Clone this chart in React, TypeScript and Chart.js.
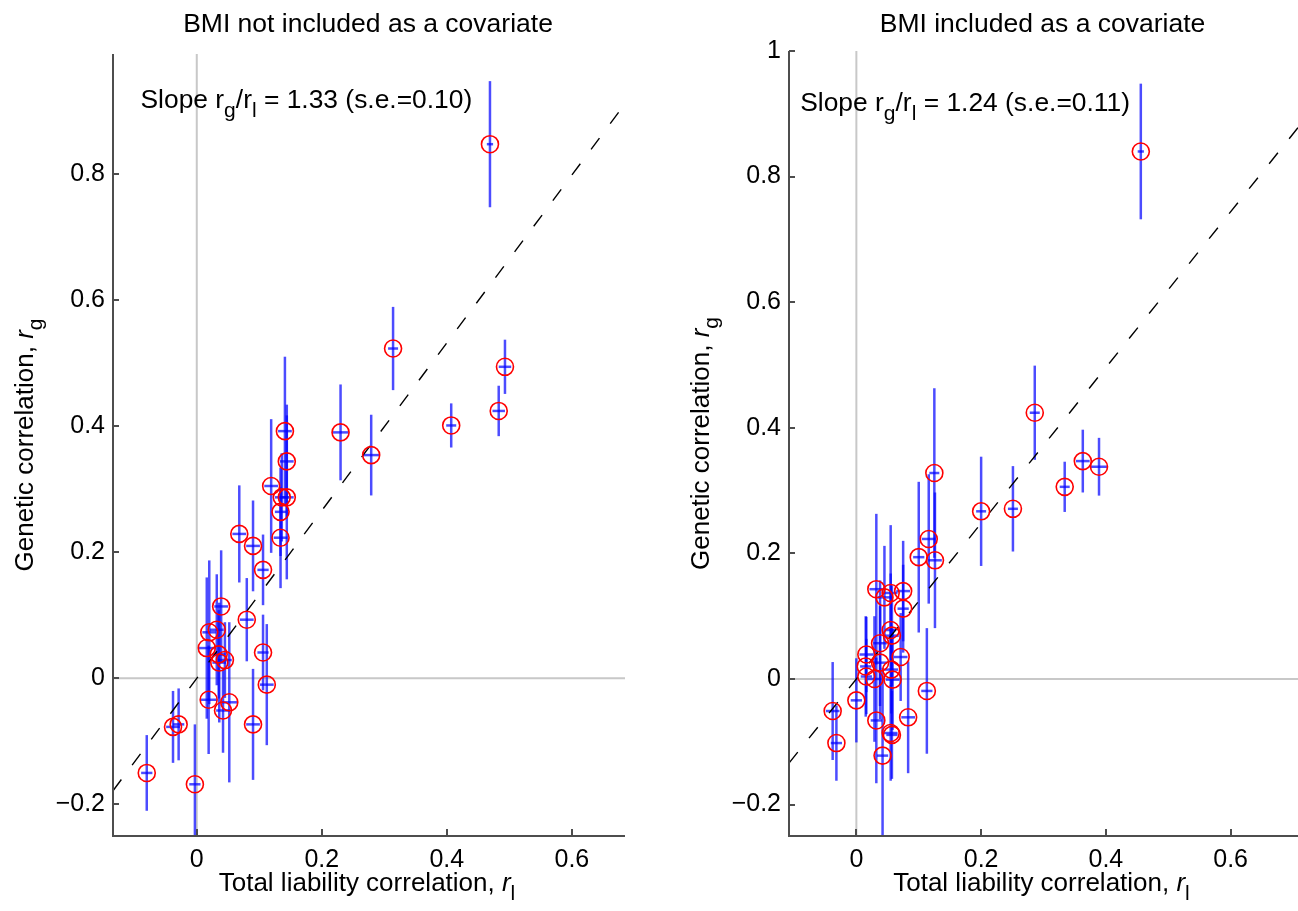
import React, { useEffect, useRef } from 'react';
import { Chart, registerables } from 'chart.js';

Chart.register(...registerables);

const FONT = "'Liberation Sans', Arial, Helvetica, sans-serif";

// ---------------- Left panel data ----------------
const LEFT_TITLE = 'BMI not included as a covariate';
const LEFT_SLOPE = 1.33;
const LEFT_SLOPE_SE = '0.10';
const LEFT_X_RANGE = [-0.134, 0.685];
const LEFT_Y_RANGE = [-0.25, 0.99];
const LEFT_Y_TICKS = [-0.2, 0, 0.2, 0.4, 0.6, 0.8];
const LEFT_X_TICKS = [0, 0.2, 0.4, 0.6];
const LEFT_RL = [0.469, 0.314, 0.493, 0.483, 0.407, 0.230, 0.279, 0.141, 0.144, 0.136, 0.144, 0.134, 0.134, 0.119, 0.068, 0.090, 0.106, 0.039, 0.080, 0.020, 0.032, 0.016, 0.035, 0.045, 0.036, 0.106, 0.112, 0.019, 0.042, 0.052, 0.090, -0.038, -0.029, -0.080, -0.003];
const LEFT_RG = [0.847, 0.523, 0.494, 0.424, 0.401, 0.390, 0.354, 0.392, 0.344, 0.287, 0.287, 0.264, 0.223, 0.305, 0.229, 0.210, 0.172, 0.114, 0.093, 0.073, 0.077, 0.048, 0.038, 0.029, 0.025, 0.041, -0.010, -0.034, -0.051, -0.038, -0.073, -0.077, -0.073, -0.150, -0.168];
const LEFT_RG_SE = [0.100, 0.066, 0.043, 0.040, 0.035, 0.076, 0.064, 0.118, 0.090, 0.070, 0.130, 0.070, 0.080, 0.106, 0.077, 0.072, 0.056, 0.089, 0.066, 0.114, 0.088, 0.112, 0.070, 0.060, 0.095, 0.060, 0.096, 0.086, 0.067, 0.127, 0.088, 0.057, 0.057, 0.060, 0.095];
const LEFT_RL_SE = [0.005, 0.008, 0.010, 0.010, 0.008, 0.013, 0.013, 0.011, 0.011, 0.011, 0.011, 0.009, 0.011, 0.011, 0.011, 0.011, 0.009, 0.011, 0.011, 0.011, 0.011, 0.013, 0.011, 0.011, 0.011, 0.009, 0.011, 0.013, 0.011, 0.013, 0.011, 0.011, 0.009, 0.009, 0.009];

// ---------------- Right panel data ----------------
const RIGHT_TITLE = 'BMI included as a covariate';
const RIGHT_SLOPE = 1.24;
const RIGHT_SLOPE_SE = '0.11';
const RIGHT_X_RANGE = [-0.108, 0.708];
const RIGHT_Y_RANGE = [-0.25, 1.0];
const RIGHT_Y_TICKS = [-0.2, 0, 0.2, 0.4, 0.6, 0.8, 1];
const RIGHT_X_TICKS = [0, 0.2, 0.4, 0.6];
const RIGHT_RL = [0.456, 0.200, 0.251, 0.286, 0.334, 0.363, 0.389, 0.125, 0.126, 0.116, 0.100, 0.032, 0.045, 0.055, 0.075, 0.075, 0.055, 0.057, 0.038, 0.016, 0.071, 0.015, 0.038, 0.056, 0.016, 0.029, 0.058, 0.113, 0.000, -0.038, -0.032, 0.032, 0.083, 0.055, 0.057, 0.042];
const RIGHT_RG = [0.840, 0.267, 0.271, 0.424, 0.306, 0.347, 0.338, 0.328, 0.189, 0.223, 0.194, 0.143, 0.130, 0.137, 0.140, 0.112, 0.078, 0.069, 0.057, 0.039, 0.035, 0.020, 0.026, 0.015, 0.004, 0.000, -0.001, -0.019, -0.034, -0.051, -0.102, -0.066, -0.061, -0.086, -0.089, -0.122];
const RIGHT_RG_SE = [0.108, 0.087, 0.068, 0.075, 0.040, 0.050, 0.046, 0.135, 0.108, 0.103, 0.120, 0.120, 0.082, 0.108, 0.080, 0.070, 0.090, 0.080, 0.100, 0.060, 0.070, 0.080, 0.090, 0.070, 0.060, 0.100, 0.080, 0.100, 0.067, 0.078, 0.060, 0.100, 0.089, 0.076, 0.070, 0.140];
const RIGHT_RL_SE = [0.005, 0.008, 0.008, 0.008, 0.008, 0.011, 0.013, 0.008, 0.011, 0.011, 0.009, 0.011, 0.011, 0.011, 0.011, 0.009, 0.009, 0.011, 0.011, 0.011, 0.011, 0.009, 0.011, 0.011, 0.009, 0.011, 0.011, 0.009, 0.009, 0.011, 0.009, 0.009, 0.011, 0.011, 0.009, 0.009];

// Annotation position (data coordinates)
const SLOPE_TEXT_X = -0.09;
const SLOPE_TEXT_Y = 0.905;

type Part = { t: string; italic?: boolean; sub?: boolean };

function drawRich(ctx: CanvasRenderingContext2D, parts: Part[], x: number, y: number, size: number, align: 'left' | 'center') {
  const fontFor = (p: Part) => `${p.italic ? 'italic ' : ''}${p.sub ? Math.round(size * 0.8) : size}px ${FONT}`;
  const widths = parts.map((p) => {
    ctx.font = fontFor(p);
    return ctx.measureText(p.t).width;
  });
  const total = widths.reduce((a, b) => a + b, 0);
  let cx = align === 'center' ? x - total / 2 : x;
  ctx.textAlign = 'left';
  ctx.textBaseline = 'alphabetic';
  parts.forEach((p, i) => {
    ctx.font = fontFor(p);
    ctx.fillText(p.t, cx, y + (p.sub ? size * 0.36 : 0));
    cx += widths[i];
  });
}

const fmt = (v: number) => {
  if (Math.abs(v) < 1e-9) return '0';
  const s = Math.abs(v) === 1 ? '1' : Math.abs(v).toFixed(1);
  return (v < 0 ? '\u2212' : '') + s;
};

type PanelProps = {
  left: number;
  width: number;
  padTop: number;
  yWidth: number;
  title: string;
  slope: number;
  slopeSe: string;
  xr: number[];
  yr: number[];
  xt: number[];
  yt: number[];
  rl: number[];
  rg: number[];
  rgSe: number[];
  rlSe: number[];
};

function Panel(props: PanelProps) {
  const ref = useRef<HTMLCanvasElement | null>(null);
  useEffect(() => {
    const canvas = ref.current;
    if (!canvas) return;
    const { xr, yr, xt, yt, rl, rg, rgSe, rlSe, slope, slopeSe, title } = props;

    const decor = {
      id: 'decor',
      beforeDatasetsDraw(chart: any) {
        const { ctx, chartArea: a, scales } = chart;
        const x = scales.x;
        const y = scales.y;
        ctx.save();
        ctx.beginPath();
        ctx.rect(a.left, a.top, a.right - a.left, a.bottom - a.top);
        ctx.clip();
        ctx.strokeStyle = '#c8c8c8';
        ctx.lineWidth = 2;
        const x0 = x.getPixelForValue(0);
        const y0 = y.getPixelForValue(0);
        ctx.beginPath();
        ctx.moveTo(x0, a.top);
        ctx.lineTo(x0, a.bottom);
        ctx.moveTo(a.left, y0);
        ctx.lineTo(a.right, y0);
        ctx.stroke();
        ctx.strokeStyle = 'rgba(0,0,255,0.7)';
        ctx.lineWidth = 2.5;
        for (let i = 0; i < rl.length; i++) {
          const px = x.getPixelForValue(rl[i]);
          const py = y.getPixelForValue(rg[i]);
          ctx.beginPath();
          ctx.moveTo(px, y.getPixelForValue(rg[i] - rgSe[i]));
          ctx.lineTo(px, y.getPixelForValue(rg[i] + rgSe[i]));
          ctx.stroke();
          ctx.beginPath();
          ctx.moveTo(x.getPixelForValue(rl[i] - rlSe[i]), py);
          ctx.lineTo(x.getPixelForValue(rl[i] + rlSe[i]), py);
          ctx.stroke();
        }
        ctx.restore();
      },
      afterDraw(chart: any) {
        const { ctx, chartArea: a, scales } = chart;
        const x = scales.x;
        const y = scales.y;
        ctx.save();
        ctx.strokeStyle = '#4d4d4d';
        ctx.lineWidth = 2;
        ctx.beginPath();
        ctx.moveTo(a.left, a.top);
        ctx.lineTo(a.left, a.bottom);
        ctx.lineTo(a.right, a.bottom);
        ctx.stroke();
        ctx.beginPath();
        yt.forEach((v) => {
          const py = Math.round(y.getPixelForValue(v));
          ctx.moveTo(a.left, py);
          ctx.lineTo(a.left + 6, py);
        });
        xt.forEach((v) => {
          const px = Math.round(x.getPixelForValue(v));
          ctx.moveTo(px, a.bottom);
          ctx.lineTo(px, a.bottom - 7);
        });
        ctx.stroke();

        ctx.fillStyle = '#000';
        const cx = (a.left + a.right) / 2;
        // title
        ctx.font = `26.5px ${FONT}`;
        ctx.textAlign = 'center';
        ctx.textBaseline = 'alphabetic';
        ctx.fillText(title, cx - 1, 32);
        // x label
        drawRich(ctx, [{ t: 'Total liability correlation, ' }, { t: 'r', italic: true }, { t: 'l', sub: true }], cx - 2, 891, 26, 'center');
        // y label
        ctx.save();
        ctx.translate(a.left - 80, (a.top + a.bottom) / 2);
        ctx.rotate(-Math.PI / 2);
        drawRich(ctx, [{ t: 'Genetic correlation, ' }, { t: 'r', italic: true }, { t: 'g', sub: true }], 0, 0, 26, 'center');
        ctx.restore();
        // slope annotation
        drawRich(
          ctx,
          [
            { t: 'Slope r' },
            { t: 'g', sub: true },
            { t: '/r' },
            { t: 'l', sub: true },
            { t: ` = ${slope.toFixed(2)} (s.e.=${slopeSe})` },
          ],
          x.getPixelForValue(SLOPE_TEXT_X),
          y.getPixelForValue(SLOPE_TEXT_Y),
          26.4,
          'left'
        );
        ctx.restore();
      },
    };

    const chart = new Chart(canvas, {
      type: 'scatter',
      data: {
        datasets: [
          {
            type: 'scatter',
            data: rl.map((v, i) => ({ x: v, y: rg[i] })),
            pointStyle: 'circle',
            pointRadius: 8.5,
            pointBorderWidth: 1.6,
            borderColor: '#ff0000',
            pointBorderColor: '#ff0000',
            backgroundColor: 'rgba(0,0,0,0)',
            pointBackgroundColor: 'rgba(0,0,0,0)',
            order: 1,
          } as any,
          {
            type: 'line',
            data: [
              { x: xr[0], y: slope * xr[0] },
              { x: xr[1], y: slope * xr[1] },
            ],
            borderColor: '#000',
            borderWidth: 1.4,
            borderDash: [14, 18],
            pointRadius: 0,
            fill: false,
            order: 2,
          } as any,
        ],
      },
      options: {
        animation: false,
        responsive: false,
        devicePixelRatio: 1,
        events: [],
        layout: { padding: { left: 0, top: props.padTop, right: props.width - (props.left === 0 ? 625 : 1298 - props.left), bottom: 0 }, autoPadding: false } as any,
        plugins: { legend: { display: false }, tooltip: { enabled: false }, title: { display: false } },
        scales: {
          x: {
            type: 'linear',
            min: xr[0],
            max: xr[1],
            grid: { display: false, drawTicks: false },
            border: { display: false },
            afterBuildTicks: (s: any) => {
              s.ticks = xt.map((v) => ({ value: v }));
            },
            afterFit: (s: any) => {
              s.height = 75;
              s.paddingLeft = 0;
              s.paddingRight = 0;
            },
            ticks: {
              font: { family: FONT, size: 25 },
              color: '#000',
              padding: 9,
              maxRotation: 0,
              autoSkip: false,
              callback: (v: any) => fmt(Number(v)),
            },
          },
          y: {
            type: 'linear',
            min: yr[0],
            max: yr[1],
            grid: { display: false, drawTicks: false },
            border: { display: false },
            afterBuildTicks: (s: any) => {
              s.ticks = yt.map((v) => ({ value: v }));
            },
            afterFit: (s: any) => {
              s.width = props.yWidth;
              s.paddingTop = 0;
              s.paddingBottom = 0;
            },
            ticks: {
              font: { family: FONT, size: 25 },
              color: '#000',
              padding: 8,
              autoSkip: false,
              callback: (v: any) => fmt(Number(v)),
            },
          },
        },
      } as any,
      plugins: [decor],
    });
    return () => chart.destroy();
  }, []);

  return (
    <canvas
      ref={ref}
      width={props.width}
      height={911}
      style={{ position: 'absolute', left: props.left, top: 0, width: props.width, height: 911 }}
    />
  );
}

export default function App() {
  return (
    <div style={{ position: 'absolute', left: 0, top: 0, width: 1298, height: 911, background: '#fff', overflow: 'hidden' }}>
      <Panel
        left={0}
        width={649}
        padTop={54}
        yWidth={113}
        title={LEFT_TITLE}
        slope={LEFT_SLOPE}
        slopeSe={LEFT_SLOPE_SE}
        xr={LEFT_X_RANGE}
        yr={LEFT_Y_RANGE}
        xt={LEFT_X_TICKS}
        yt={LEFT_Y_TICKS}
        rl={LEFT_RL}
        rg={LEFT_RG}
        rgSe={LEFT_RG_SE}
        rlSe={LEFT_RL_SE}
      />
      <Panel
        left={649}
        width={649}
        padTop={51}
        yWidth={140}
        title={RIGHT_TITLE}
        slope={RIGHT_SLOPE}
        slopeSe={RIGHT_SLOPE_SE}
        xr={RIGHT_X_RANGE}
        yr={RIGHT_Y_RANGE}
        xt={RIGHT_X_TICKS}
        yt={RIGHT_Y_TICKS}
        rl={RIGHT_RL}
        rg={RIGHT_RG}
        rgSe={RIGHT_RG_SE}
        rlSe={RIGHT_RL_SE}
      />
    </div>
  );
}
